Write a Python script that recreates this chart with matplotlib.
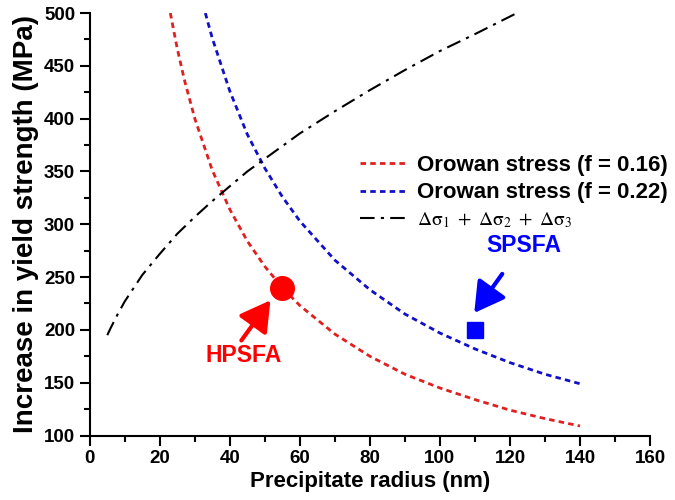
import matplotlib
matplotlib.use("Agg")
import matplotlib.pyplot as plt
from matplotlib.ticker import MultipleLocator

plt.rcParams['font.family'] = ['Liberation Sans', 'DejaVu Sans']
plt.rcParams['mathtext.fontset'] = 'stix'

# Orowan stress, f = 0.16 (red)
red_x = [23, 25, 27, 30, 35, 40, 45, 50, 55, 60, 70, 80, 90, 100, 110, 120, 130, 140]
red_y = [500, 466, 437, 400, 351, 314, 284, 260, 240, 223, 196, 175, 158, 145, 134, 124, 116, 109]

# Orowan stress, f = 0.22 (blue)
blue_x = [33, 35, 40, 45, 50, 55, 60, 70, 80, 90, 100, 110, 120, 130, 140]
blue_y = [500, 476, 426, 385, 353, 326, 303, 266, 238, 215, 197, 182, 169, 158, 149]

# sum of strengthening contributions (black dash-dot)
sum_x = [5, 6, 8, 10, 12, 15, 20, 25, 30, 35, 40, 45, 50, 60, 70, 80, 90, 100, 110, 122]
sum_y = [195, 202, 215, 227, 237, 252, 272, 291, 307, 322, 336, 350, 362, 386, 407, 427, 446, 464, 480, 500]

# experimental points
hp_x, hp_y = 55, 240
sp_x, sp_y = 110, 200

fig = plt.figure(figsize=(6.75, 5), dpi=100)
ax = fig.add_axes([0.133, 0.129, 0.83, 0.845])

ax.plot(red_x, red_y, color="#e0201e", lw=2, ls=(0, (2, 1.5)),
        label="Orowan stress (f = 0.16)")
ax.plot(blue_x, blue_y, color="#1010c8", lw=2, ls=(0, (2, 1.5)),
        label="Orowan stress (f = 0.22)")
ax.plot(sum_x, sum_y, color="black", lw=1.5, ls=(0, (7, 3, 1.5, 3)),
        label=r"$\Delta\mathrm{\sigma}_1\ +\ \Delta\mathrm{\sigma}_2\ +\ \Delta\mathrm{\sigma}_3$")

ax.plot(hp_x, hp_y, "o", color="#ff0000", ms=17, zorder=5)
ax.plot(sp_x, sp_y, "s", color="#0000ff", ms=12, zorder=5)

arrow = "-|>,head_length=0.7,head_width=0.4"
ax.text(44, 176, "HPSFA", color="#ff0000", fontsize=16.5, fontweight="bold",
        ha="center", va="center")
ax.annotate("", xy=(51.6, 228), xytext=(43.3, 190),
            arrowprops=dict(arrowstyle=arrow, color="#ff0000", lw=3,
                            mutation_scale=26, shrinkA=0, shrinkB=0))
ax.text(124, 280, "SPSFA", color="#0000ff", fontsize=16.5, fontweight="bold",
        ha="center", va="center")
ax.annotate("", xy=(109.8, 216), xytext=(117.8, 253),
            arrowprops=dict(arrowstyle=arrow, color="#0000ff", lw=3,
                            mutation_scale=26, shrinkA=0, shrinkB=0))

ax.set_xlim(0, 160)
ax.set_ylim(100, 500)
ax.xaxis.set_major_locator(MultipleLocator(20))
ax.xaxis.set_minor_locator(MultipleLocator(10))
ax.yaxis.set_major_locator(MultipleLocator(50))
ax.yaxis.set_minor_locator(MultipleLocator(25))
ax.tick_params(which="major", direction="out", length=7, width=1.5, labelsize=13.5)
ax.tick_params(which="minor", direction="out", length=4, width=1.5)
for lab in ax.get_xticklabels() + ax.get_yticklabels():
    lab.set_fontweight("bold")

for s in ("top", "right"):
    ax.spines[s].set_visible(False)
for s in ("left", "bottom"):
    ax.spines[s].set_linewidth(1.5)

ax.set_xlabel("Precipitate radius (nm)", fontsize=16, fontweight="bold", labelpad=3)
ax.set_ylabel("Increase in yield strength (MPa)", fontsize=20, fontweight="bold", labelpad=4)

leg = ax.legend(loc="upper right", bbox_to_anchor=(1.068, 0.712), frameon=False,
                fontsize=16, handlelength=2.2, handletextpad=0.4, labelspacing=0.3)
for t in leg.get_texts()[:2]:
    t.set_fontweight("bold")
leg.get_texts()[2].set_fontsize(14)

fig.savefig("out.png", dpi=100)
